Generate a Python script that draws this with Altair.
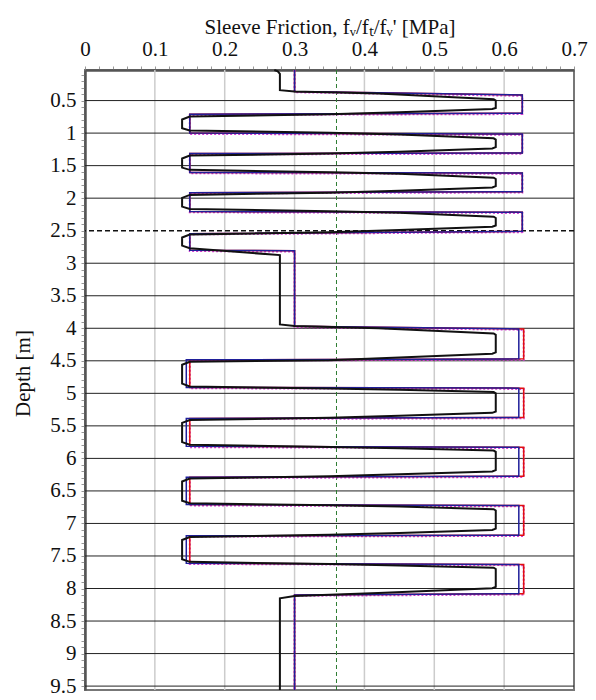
import altair as alt
import pandas as pd

# ---- data ----
# f_v (blue) profile vertices
fv_x = [0.300, 0.300, 0.626, 0.626, 0.150, 0.150, 0.626, 0.626, 0.150, 0.150,
        0.626, 0.626, 0.150, 0.150, 0.626, 0.626, 0.150, 0.150, 0.300, 0.300,
        0.621, 0.621, 0.145, 0.145, 0.621, 0.621, 0.145, 0.145, 0.621, 0.621,
        0.145, 0.145, 0.621, 0.621, 0.145, 0.145, 0.621, 0.621, 0.300, 0.300]
fv_d = [0.03, 0.36, 0.415, 0.695, 0.710, 1.000, 1.015, 1.305, 1.315, 1.605,
        1.615, 1.900, 1.915, 2.205, 2.215, 2.510, 2.545, 2.800, 2.810, 3.970,
        4.010, 4.470, 4.485, 4.910, 4.920, 5.370, 5.385, 5.815, 5.830, 6.275,
        6.290, 6.710, 6.725, 7.180, 7.190, 7.610, 7.630, 8.080, 8.100, 9.56]

# f_t (red) profile vertices (same depths)
ft_x = [0.300, 0.300, 0.626, 0.626, 0.150, 0.150, 0.626, 0.626, 0.150, 0.150,
        0.626, 0.626, 0.150, 0.150, 0.626, 0.626, 0.150, 0.150, 0.300, 0.300,
        0.628, 0.628, 0.150, 0.150, 0.628, 0.628, 0.150, 0.150, 0.628, 0.628,
        0.150, 0.150, 0.628, 0.628, 0.150, 0.150, 0.628, 0.628, 0.300, 0.300]
ft_d = fv_d

# f_v' (purple dotted) profile vertices: steps sit a hair below the others
fvp_x = ft_x
fvp_d = [0.03, 0.372, 0.427, 0.707, 0.722, 1.012, 1.027, 1.317, 1.327, 1.617,
         1.627, 1.912, 1.927, 2.217, 2.227, 2.522, 2.557, 2.812, 2.822, 3.982,
         4.022, 4.482, 4.497, 4.922, 4.932, 5.382, 5.397, 5.827, 5.842, 6.287,
         6.302, 6.722, 6.737, 7.192, 7.202, 7.622, 7.642, 8.092, 8.112, 9.56]

# measured / smoothed response (black)
blk_x = [0.271, 0.276, 0.279, 0.279, 0.300, 0.420, 0.585, 0.588, 0.588, 0.583,
         0.450, 0.350, 0.150, 0.139, 0.139, 0.150, 0.350, 0.450, 0.585, 0.588,
         0.588, 0.583, 0.450, 0.350, 0.150, 0.139, 0.139, 0.150, 0.350, 0.450,
         0.585, 0.588, 0.588, 0.583, 0.450, 0.350, 0.150, 0.139, 0.139, 0.150,
         0.350, 0.450, 0.585, 0.588, 0.588, 0.583, 0.450, 0.350, 0.150, 0.139,
         0.139, 0.150, 0.279, 0.279, 0.300, 0.420, 0.585, 0.588, 0.588, 0.583,
         0.450, 0.350, 0.150, 0.139, 0.139, 0.150, 0.350, 0.450, 0.585, 0.588,
         0.588, 0.583, 0.450, 0.350, 0.150, 0.139, 0.139, 0.150, 0.350, 0.450,
         0.585, 0.588, 0.588, 0.583, 0.450, 0.350, 0.150, 0.139, 0.139, 0.150,
         0.350, 0.450, 0.585, 0.588, 0.588, 0.583, 0.450, 0.350, 0.150, 0.139,
         0.139, 0.150, 0.350, 0.450, 0.585, 0.588, 0.588, 0.583, 0.420, 0.300,
         0.279, 0.279]
blk_d = [0.03, 0.05, 0.09, 0.34, 0.36, 0.390, 0.480, 0.500, 0.615, 0.630,
         0.680, 0.712, 0.745, 0.790, 0.925, 0.960, 0.995, 1.020, 1.080, 1.100,
         1.215, 1.235, 1.285, 1.315, 1.345, 1.390, 1.530, 1.565, 1.600, 1.625,
         1.685, 1.705, 1.815, 1.835, 1.885, 1.915, 1.950, 1.995, 2.130, 2.165,
         2.200, 2.225, 2.285, 2.305, 2.420, 2.440, 2.490, 2.525, 2.560, 2.605,
         2.730, 2.770, 2.875, 3.940, 3.965, 4.000, 4.080, 4.100, 4.370, 4.390,
         4.450, 4.490, 4.515, 4.560, 4.850, 4.895, 4.925, 4.945, 4.980, 5.000,
         5.280, 5.300, 5.345, 5.375, 5.410, 5.455, 5.750, 5.790, 5.825, 5.845,
         5.880, 5.900, 6.180, 6.200, 6.245, 6.275, 6.310, 6.355, 6.650, 6.690,
         6.720, 6.740, 6.780, 6.800, 7.080, 7.100, 7.145, 7.175, 7.210, 7.255,
         7.550, 7.590, 7.625, 7.645, 7.680, 7.700, 7.975, 7.995, 8.070, 8.115,
         8.150, 9.56]

x_grid = [0.1, 0.2, 0.3, 0.4, 0.5, 0.6]
y_grid = [0.5, 1, 1.5, 2, 3, 3.5, 4, 4.5, 5, 5.5, 6, 6.5, 7, 7.5, 8, 8.5, 9, 9.5]
y_dashed = [2.5]
x_ref = [0.36]

x_ticks = [round(i * 0.02, 2) for i in range(36)]
y_ticks = [round(i * 0.1, 1) for i in range(1, 96)]

FONT = "Liberation Serif"


def prof(xs, ds):
    return pd.DataFrame({"x": xs, "depth": ds, "i": list(range(len(xs)))})


xaxis = alt.Axis(
    orient="top", values=x_ticks, grid=False, tickSize=4, tickColor="#999999",
    tickWidth=1, domainColor="#555555", domainWidth=2.5,
    labelExpr="abs(datum.value*10 - round(datum.value*10)) < 0.001 ? format(datum.value, '.1~f') : ''",
    labelFont=FONT, labelFontSize=21, labelColor="#111111", labelPadding=7,
    labelFlush=False, labelOverlap=False,
    title="Sleeve Friction, fᵥ/fₜ/fᵥ' [MPa]", titleFont=FONT, titleFontSize=21,
    titleFontWeight="normal", titleColor="#111111", titlePadding=1,
)
yaxis = alt.Axis(
    orient="left", values=y_ticks, grid=False, tickSize=4, tickColor="#999999",
    tickWidth=1, domainColor="#555555", domainWidth=2.5,
    labelExpr="abs(datum.value*2 - round(datum.value*2)) < 0.001 ? format(datum.value, '.1~f') : ''",
    labelFont=FONT, labelFontSize=21, labelColor="#111111", labelPadding=5,
    labelFlush=False, labelOverlap=False,
    title="Depth [m]", titleFont=FONT, titleFontSize=21, titleFontWeight="normal",
    titleColor="#111111", titlePadding=16, titleY=303,
)

xs = alt.Scale(domain=[0, 0.7], nice=False, zero=False)
ys = alt.Scale(domain=[0.03, 9.56], reverse=True, nice=False, zero=False)
X = alt.X("x:Q", scale=xs, axis=xaxis)
Y = alt.Y("depth:Q", scale=ys, axis=yaxis)

vgrid = alt.Chart(pd.DataFrame({"x": x_grid})).mark_rule(
    color="#cccccc", strokeWidth=1.5).encode(x=X)
hgrid = alt.Chart(pd.DataFrame({"depth": y_grid})).mark_rule(
    color="#222222", strokeWidth=1).encode(y=Y)
hdash = alt.Chart(pd.DataFrame({"depth": y_dashed})).mark_rule(
    color="#111111", strokeWidth=1.5, strokeDash=[5, 3]).encode(y=Y)
vref = alt.Chart(pd.DataFrame({"x": x_ref})).mark_rule(
    color="#2e7d32", strokeWidth=1, strokeDash=[4, 3]).encode(x=X)

purple = alt.Chart(prof(fvp_x, fvp_d)).mark_line(
    color="#d23cd2", strokeWidth=2, strokeDash=[2, 2]).encode(x=X, y=Y, order="i:Q")
red = alt.Chart(prof(ft_x, ft_d)).mark_line(
    color="#e01010", strokeWidth=1.5).encode(x=X, y=Y, order="i:Q")
blue = alt.Chart(prof(fv_x, fv_d)).mark_line(
    color="#1f1f9a", strokeWidth=1.5).encode(x=X, y=Y, order="i:Q")
black = alt.Chart(prof(blk_x, blk_d)).mark_line(
    color="#111111", strokeWidth=2).encode(x=X, y=Y, order="i:Q")

chart = alt.layer(vgrid, hgrid, hdash, vref, purple, red, blue, black).properties(
    width=489, height=620,
    padding={"left": 77, "top": 62, "right": 14, "bottom": 8},
    autosize=alt.AutoSizeParams(type="none"),
    background="white",
).configure(font=FONT).configure_view(stroke="#777777", strokeWidth=2)

chart.save("out.html", embed_options={"renderer": "svg", "actions": False})
